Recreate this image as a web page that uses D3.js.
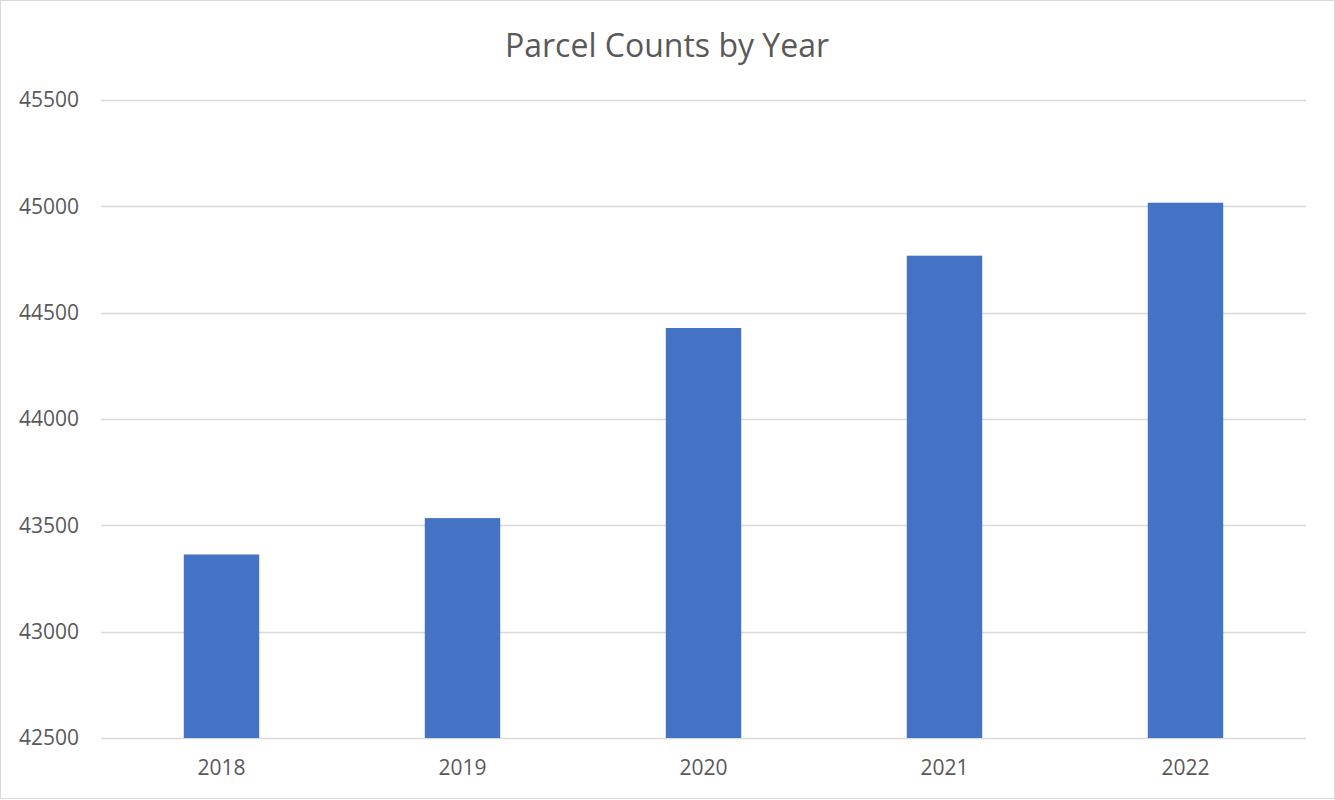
<!DOCTYPE html>
<html>
<head>
<meta charset="utf-8">
<script src="https://cdn.jsdelivr.net/npm/d3@7"></script>
<style>
  html, body { margin: 0; padding: 0; background: #fff; }
  svg { display: block; }
  svg text { font-family: "Open Sans", "Liberation Sans", sans-serif; }
</style>
</head>
<body>
<svg id="chart" width="1335" height="800"></svg>
<script>
// Chart data
var years = ['2018', '2019', '2020', '2021', '2022'];
var parcelCounts = [43363, 43534, 44428, 44768, 45017];
var yTicks = [42500, 43000, 43500, 44000, 44500, 45000, 45500];

var width = 1335, height = 800;
var margin = { top: 100, right: 29, bottom: 62, left: 101 };

var svg = d3.select('#chart');

// Outer chart border
svg.append('rect')
  .attr('x', 0.5).attr('y', 0.5)
  .attr('width', width - 1).attr('height', height - 2)
  .attr('fill', '#fff')
  .attr('stroke', '#d9d9d9');

var x = d3.scaleBand()
  .domain(years)
  .range([margin.left, width - margin.right])
  .paddingInner(0.687)
  .paddingOuter(0.3435);

var y = d3.scaleLinear()
  .domain([42500, 45500])
  .range([height - margin.bottom, margin.top]);

// Gridlines
svg.append('g')
  .selectAll('line')
  .data(yTicks)
  .join('line')
  .attr('x1', margin.left)
  .attr('x2', width - margin.right)
  .attr('y1', function(d) { return Math.round(y(d)) + 0.5; })
  .attr('y2', function(d) { return Math.round(y(d)) + 0.5; })
  .attr('stroke', '#d9d9d9')
  .attr('stroke-width', 1.3);

// Y axis labels
var yAxis = d3.axisLeft(y).tickValues(yTicks).tickSize(0).tickPadding(22)
  .tickFormat(d3.format('d'));
svg.append('g')
  .attr('transform', 'translate(' + margin.left + ',0)')
  .call(yAxis)
  .attr('font-family', null)
  .call(function(g) { g.select('.domain').remove(); })
  .selectAll('text')
  .attr('fill', '#595959')
  .style('font-size', '21px');

// Bars
svg.append('g')
  .selectAll('rect')
  .data(parcelCounts)
  .join('rect')
  .attr('x', function(d, i) { return x(years[i]); })
  .attr('y', function(d) { return y(d); })
  .attr('width', x.bandwidth())
  .attr('height', function(d) { return y(42500) - y(d); })
  .attr('fill', '#4472c4');

// X axis labels
var xAxis = d3.axisBottom(x).tickSize(0).tickPadding(22);
svg.append('g')
  .attr('transform', 'translate(0,' + (height - margin.bottom) + ')')
  .call(xAxis)
  .attr('font-family', null)
  .call(function(g) { g.select('.domain').remove(); })
  .selectAll('text')
  .attr('fill', '#595959')
  .style('font-size', '21px');

// Title
svg.append('text')
  .attr('x', 667)
  .attr('y', 57)
  .attr('text-anchor', 'middle')
  .attr('fill', '#595959')
  .style('font-size', '32px')
  .text('Parcel Counts by Year');
</script>
</body>
</html>
